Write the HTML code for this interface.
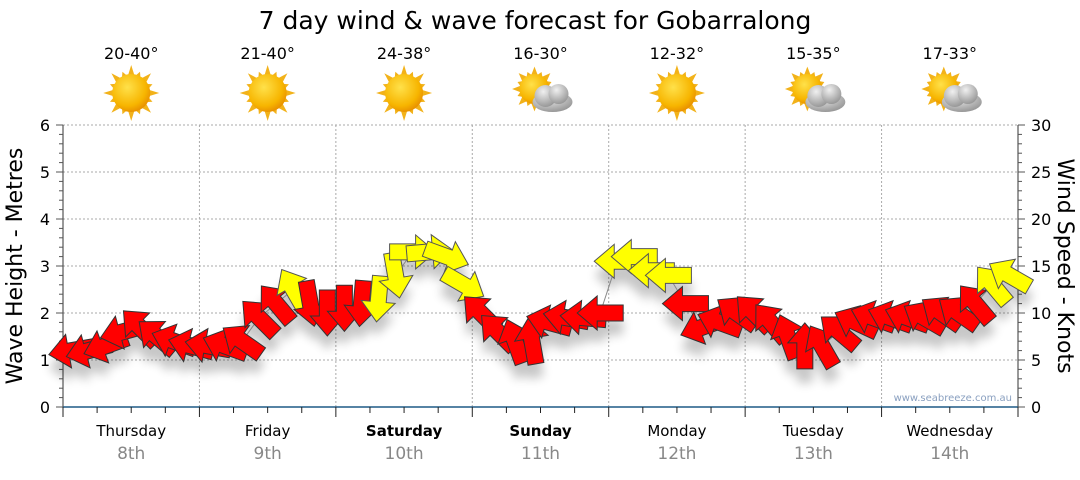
<!DOCTYPE html>
<html><head><meta charset="utf-8">
<style>
body{margin:0;background:#fff;font-family:"Liberation Sans","DejaVu Sans",sans-serif;}
svg text{font-family:"DejaVu Sans","Liberation Sans",sans-serif;}
</style></head>
<body>
<svg id="chart" width="1080" height="475" xmlns="http://www.w3.org/2000/svg">
<defs>
<radialGradient id="sunG" cx="0.4" cy="0.35" r="0.7"><stop offset="0" stop-color="#ffe14a"/><stop offset="0.7" stop-color="#f7b500"/><stop offset="1" stop-color="#e68a00"/></radialGradient>
<radialGradient id="cloudG" cx="0.4" cy="0.3" r="0.8"><stop offset="0" stop-color="#f0f0f0"/><stop offset="1" stop-color="#8c8c8c"/></radialGradient>
<filter id="shadow" x="-50%" y="-50%" width="200%" height="200%"><feGaussianBlur stdDeviation="5"/></filter>
</defs>
<text x="535" y="29" font-size="25" text-anchor="middle" fill="#000">7 day wind &amp; wave forecast for Gobarralong</text>
<g id="grid"></g>
<g id="axes"></g>
<g id="icons"></g>
<g id="shadows" opacity="0.22" filter="url(#shadow)"></g>
<polyline id="windline" fill="none" stroke="#888" stroke-width="1"/>
<g id="arrows"></g>
<text x="1012" y="401" font-size="10" text-anchor="end" fill="#8aa0c0">www.seabreeze.com.au</text>
<text transform="translate(22,266) rotate(-90)" font-size="22" text-anchor="middle">Wave Height - Metres</text>
<text transform="translate(1058,266) rotate(90)" font-size="22" text-anchor="middle">Wind Speed - Knots</text>
</svg>
<script>
const days=["Thursday","Friday","Saturday","Sunday","Monday","Tuesday","Wednesday"];
const dates=["8th","9th","10th","11th","12th","13th","14th"];
const boldDays=[false,false,true,true,false,false,false];
const temps=["20-40°","21-40°","24-38°","16-30°","12-32°","15-35°","17-33°"];
const icons=["sun","sun","sun","cloud","sun","cloud","cloud"];
const leftTicks=[0,1,2,3,4,5,6];
const rightTicks=[0,5,10,15,20,25,30];
// wind speed (knots) every 3 hours
const windSpeed=[6,6,6.5,8,8.5,7.5,7,6.5,
 6.5,6.5,7,9.5,11,12.5,11,10,
 10.5,11,11.5,14,16.5,16.5,16,13,
 10,8,7,7,9,9.5,9.5,10,
 15.5,16,14.5,14,11,8.5,9,10,
 10,9,7.5,6.5,6.5,8,9,9.5,
 9.5,9.5,9.5,10,10,11,13,14];
// direction arrow points to (screen degrees, 0=right, 90=down)
const windDir=[170,165,160,165,225,220,200,195,
 190,200,215,225,230,240,80,90,
 90,95,95,80,0,355,20,30,
 225,225,250,260,195,190,185,180,
 180,180,180,180,180,160,200,215,
 225,230,250,270,240,220,205,200,
 200,200,210,215,215,230,230,210];

const svg=document.getElementById('chart');
const NS="http://www.w3.org/2000/svg";
const X0=63,X1=1018,Y0=407,Y1=125;
const dayW=(X1-X0)/7;
const xOfHour=h=>X0+h/24*dayW;
const yM=m=>Y0-(m/6)*(Y0-Y1);
const yK=k=>Y0-(k/30)*(Y0-Y1);
function mk(tag,attrs,parent){const e=document.createElementNS(NS,tag);for(const k in attrs)e.setAttribute(k,attrs[k]);parent.appendChild(e);return e;}
const grid=document.getElementById('grid'),axes=document.getElementById('axes'),iconsG=document.getElementById('icons');
leftTicks.forEach(t=>{ if(t>0){const l=mk('line',{x1:X0,x2:X1,y1:yM(t),y2:yM(t),stroke:'#aaa','stroke-dasharray':'2,2'},grid);

}});
for(let d=1;d<7;d++){const l=mk('line',{x1:X0+d*dayW,x2:X0+d*dayW,y1:Y1,y2:Y0,stroke:'#aaa','stroke-dasharray':'2,2'},grid);

}
mk('line',{x1:X0,x2:X0,y1:Y1,y2:Y0,stroke:'#333'},axes);
mk('line',{x1:X1,x2:X1,y1:Y1,y2:Y0,stroke:'#333'},axes);
const xa=mk('line',{x1:X0,x2:X1,y1:Y0,y2:Y0,stroke:'#1f5a86','stroke-width':1.5},axes);


for(let i=0;i<=30;i++){const m=i*0.2;const y=yM(m);mk('line',{x1:X0-(i%5==0?7:4),x2:X0,y1:y,y2:y,stroke:'#555'},axes);}
leftTicks.forEach(t=>{const tx=mk('text',{x:X0-13,y:yM(t)+6,'font-size':16,'text-anchor':'end'},axes);tx.textContent=t;

});
for(let k=0;k<=30;k++){const y=yK(k);mk('line',{x1:X1,x2:X1+(k%5==0?7:4),y1:y,y2:y,stroke:'#555'},axes);}
rightTicks.forEach(t=>{const tx=mk('text',{x:X1+13,y:yK(t)+6,'font-size':16},axes);tx.textContent=t;

});
for(let q=0;q<=28;q++){const x=X0+q*dayW/4;mk('line',{x1:x,x2:x,y1:Y0,y2:Y0+(q%4==0?10:6),stroke:'#222'},axes);}
days.forEach((d,i)=>{const cx=X0+(i+0.5)*dayW;
const t=mk('text',{x:cx,y:436,'font-size':15,'text-anchor':'middle','font-weight':boldDays[i]?'bold':'normal'},axes);t.textContent=d;


const t2=mk('text',{x:cx,y:459,'font-size':17,'text-anchor':'middle',fill:'#888'},axes);t2.textContent=dates[i];


const t3=mk('text',{x:cx,y:59,'font-size':16,'text-anchor':'middle'},iconsG);t3.textContent=temps[i];


const g=mk('g',{transform:`translate(${cx},93)`},iconsG);


const cl=icons[i]=='cloud';
const sx=cl?-6:0, sy=cl?-4:0, sc=cl?0.8:1;
for(let r=0;r<16;r++){const a=r*Math.PI/8;const L=(r%2==0?28:23)*sc;const c=Math.cos(a),s=Math.sin(a);const R=15*sc;
mk('polygon',{points:`${sx+c*L},${sy+s*L} ${sx+c*R-s*4},${sy+s*R+c*4} ${sx+c*R+s*4},${sy+s*R-c*4}`,fill:'#f2b21a'},g);}
mk('circle',{cx:sx,cy:sy,r:cl?15:19,fill:'url(#sunG)'},g);
if(cl){const cg=mk('g',{fill:'url(#cloudG)'},g);
mk('ellipse',{cx:12,cy:9,rx:20,ry:10},cg);mk('circle',{cx:5,cy:3,r:11},cg);mk('circle',{cx:18,cy:1,r:10},cg);}
});
const arrowsG=document.getElementById('arrows'),shG=document.getElementById('shadows');
const pts=[];
windSpeed.forEach((k,i)=>{const x=xOfHour(i*3+1.5),y=yK(k);pts.push(x+','+y);});
document.getElementById('windline').setAttribute('points',pts.join(' '));
const shape="-23,-8 3,-8 3,-17 23,0 3,17 3,8 -23,8";
windSpeed.forEach((k,i)=>{const x=xOfHour(i*3+1.5),y=yK(k);
const s=mk('polygon',{points:shape,transform:`translate(${x},${y+14}) rotate(${windDir[i]})`,fill:'#000'},shG);


const p=mk('polygon',{points:shape,transform:`translate(${x},${y}) rotate(${windDir[i]})`,fill:k>=11.5?'#ffff00':'#ff0000',stroke:k>=11.5?'#555':'#333','stroke-width':1},arrowsG);


});
</script>
</body></html>
